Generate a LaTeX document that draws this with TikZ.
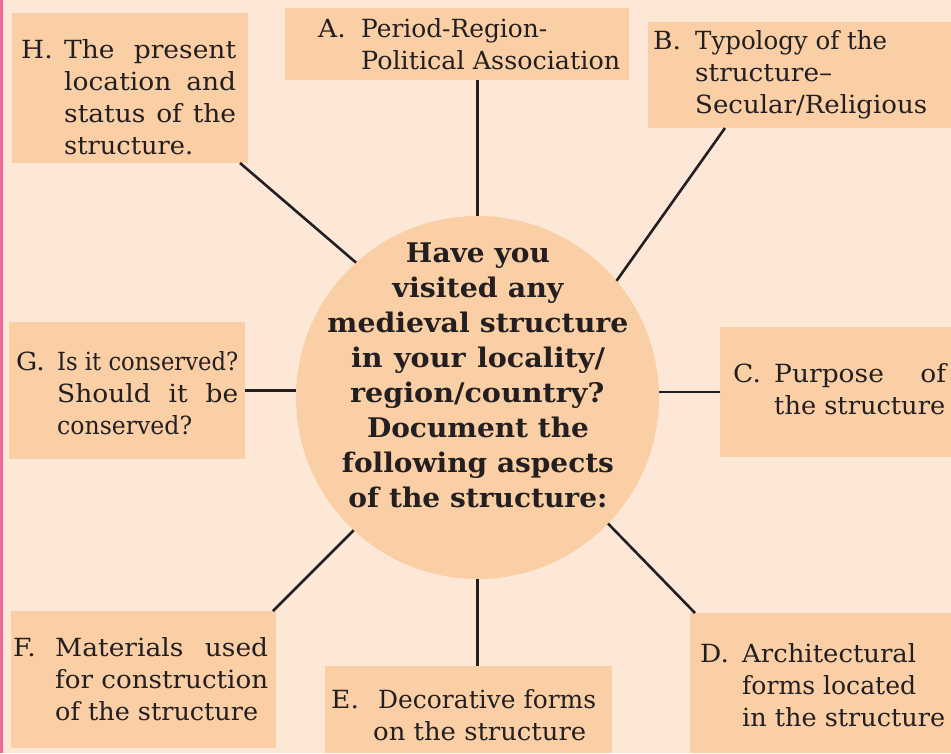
\documentclass[tikz,border=0pt]{standalone}
\usepackage{fontspec}
\setmainfont{DejaVu Serif}[FakeStretch=1.06]
\usepackage{graphicx}
\usetikzlibrary{calc}
\definecolor{bg}{HTML}{FDE8D8}
\definecolor{boxc}{HTML}{FBCFA6}
\definecolor{ink}{HTML}{231F20}
\definecolor{pinkc}{HTML}{F06A9C}
\newlength\tmpw
\newcommand\js[2]{\settowidth{\tmpw}{#2}\ifdim\tmpw>#1pt\resizebox{#1pt}{\height}{#2}\else\makebox[#1pt][s]{#2}\fi}
\newcommand\mkbox[5]{\node[box, minimum width={(#4)-(#2)}, minimum height={(#5)-(#3)}] (#1) at ({((#2)+(#4))/2},{((#3)+(#5))/2}) {};}
\tikzset{
  box/.style={fill=boxc, inner sep=0pt, outer sep=0pt, draw=none},
  txt/.style={anchor=base west, inner sep=0pt, text=ink, font=\fontsize{25}{32}\selectfont},
  ctxt/.style={anchor=base, inner sep=0pt, text=ink, font=\bfseries\fontsize{27}{35}\selectfont},
  conn/.style={draw=ink, line width=2.6pt}
}
\begin{document}
\begin{tikzpicture}[x=1pt,y=-1pt]
\useasboundingbox (0,0) rectangle (951,753);
\fill[bg] (0,0) rectangle (951,753);
\fill[pinkc] (0,0) rectangle (3,753);
% boxes
\mkbox{H}{12}{13}{248}{163}
\mkbox{A}{285}{8}{629}{80}
\mkbox{B}{648}{22}{951}{128}
\mkbox{G}{9}{322}{245}{459}
\mkbox{C}{720}{327}{951}{457}
\mkbox{F}{11}{611}{276}{748}
\mkbox{E}{325}{666}{612}{753}
\mkbox{D}{690}{613}{951}{753}
\node[circle, fill=boxc, inner sep=0pt, outer sep=0pt, minimum size=363pt] (c) at (477.5,397.5) {};
% connector end points
\coordinate (Bp) at ($(B.south west)+(77,0)$);
\coordinate (Dp) at ($(D.north west)+(5,0)$);
\coordinate (Fp) at ($(F.north east)+(-3,0)$);
\coordinate (Hp) at ($(H.south east)+(-8,0)$);
% connectors
\draw[conn] (A.south -| c.north) -- (c.north);
\draw[conn] (Bp) -- (c.40);
\draw[conn] (C.west) -- (C.west -| c.east);
\draw[conn] (c.-44) -- (Dp);
\draw[conn] (c.south) -- (c.south |- E.north);
\draw[conn] (c.227) -- (Fp);
\draw[conn] (G.east) -- (G.east -| c.west);
\draw[conn] (Hp) -- (c.132);
% texts
\node[txt] (Hl) at (21,58) {H.};
\node[txt] (Hb) at (64,58) {\begin{tabular}[t]{@{}l@{}}\js{172}{The present}\\\js{172}{location and}\\\js{172}{status of the}\\\js{129}{structure.}\end{tabular}};
\node[txt] (Al) at (318,37) {A.};
\node[txt] (Ab) at (361,37) {\begin{tabular}[t]{@{}l@{}}\js{186}{Period-Region-}\\\js{259}{Political Association}\end{tabular}};
\node[txt] (Bl) at (653,49) {B.};
\node[txt] (Bb) at (695,49) {\begin{tabular}[t]{@{}l@{}}\js{192}{Typology of the}\\\js{137}{structure–}\\\js{232}{Secular/Religious}\end{tabular}};
\node[txt] (Gl) at (16,370) {G.};
\node[txt] (Gb) at (57,370) {\begin{tabular}[t]{@{}l@{}}\js{181}{Is it conserved?}\\\js{181}{Should it be}\\\js{135}{conserved?}\end{tabular}};
\node[txt] (Cl) at (733,382) {C.};
\node[txt] (Cb) at (774,382) {\begin{tabular}[t]{@{}l@{}}\js{172}{Purpose of}\\\js{171}{the structure}\end{tabular}};
\node[txt] (Fl) at (13,656) {F.};
\node[txt] (Fb) at (55,656) {\begin{tabular}[t]{@{}l@{}}\js{213}{Materials used}\\\js{213}{for construction}\\\js{203}{of the structure}\end{tabular}};
\node[txt] (El) at (331,708) {E.};
\node[txt] (Eb1) at (378,708) {\js{218}{Decorative forms}};
\node[txt] (Eb2) at (373,740) {\js{213}{on the structure}};
\node[txt] (Dl) at (700,662) {D.};
\node[txt] (Db) at (742,662) {\begin{tabular}[t]{@{}l@{}}\js{174}{Architectural}\\\js{174}{forms located}\\\js{203}{in the structure}\end{tabular}};
\node[ctxt] (ct) at (478,262) {\begin{tabular}[t]{@{}c@{}}\js{144}{Have you}\\\js{171}{visited any}\\\js{301}{medieval structure}\\\js{254}{in your locality/}\\\js{256}{region/country?}\\\js{222}{Document the}\\\js{272}{following aspects}\\\js{259}{of the structure:}\end{tabular}};
\end{tikzpicture}
\end{document}
